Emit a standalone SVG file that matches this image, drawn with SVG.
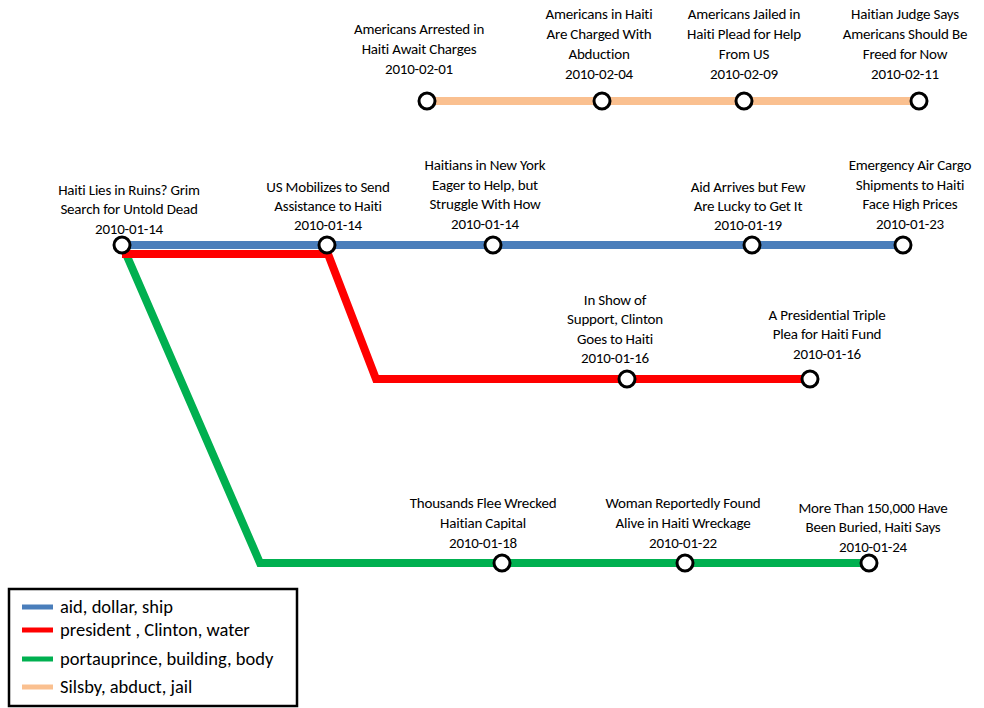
<svg xmlns="http://www.w3.org/2000/svg" width="984" height="708" viewBox="0 0 984 708">
<style>
  text { font-family: Carlito, Lato, "Liberation Sans", sans-serif; font-size: 15px; letter-spacing: -0.2px; font-variant-ligatures: none; fill: #000; text-anchor: middle; }
  .line { fill: none; stroke-width: 8; stroke-linecap: butt; stroke-linejoin: miter; }
  .blue { stroke: #4a7ebb; }
  .red { stroke: #ff0000; }
  .green { stroke: #00b050; }
  .orange { stroke: #fac090; }
  .stop { fill: #ffffff; stroke: #000000; stroke-width: 3; }
  .legend-text { font-size: 18.5px; letter-spacing: 0; text-anchor: start; }
</style>

<g id="connectors">
  <polyline class="line orange" points="427,101 919,101"/>
  <polyline class="line green" points="123,247 260,563 869,563"/>
  <polyline class="line red" points="122,254 328,254 376,379 810,379"/>
  <polyline class="line blue" points="122,245 903,245"/>
</g>

<!-- aid, dollar, ship -->
<g id="n-ruins">
  <circle class="stop" cx="122" cy="245" r="8"/>
  <text x="129" y="195">Haiti Lies in Ruins? Grim</text>
  <text x="129" y="214">Search for Untold Dead</text>
  <text x="129" y="234">2010-01-14</text>
</g>
<g id="n-mobilizes">
  <circle class="stop" cx="327" cy="245" r="8"/>
  <text x="328" y="192">US Mobilizes to Send</text>
  <text x="328" y="211">Assistance to Haiti</text>
  <text x="328" y="230">2010-01-14</text>
</g>
<g id="n-newyork">
  <circle class="stop" cx="493" cy="245" r="8"/>
  <text x="485" y="170">Haitians in New York</text>
  <text x="485" y="190">Eager to Help, but</text>
  <text x="485" y="209">Struggle With How</text>
  <text x="485" y="229">2010-01-14</text>
</g>
<g id="n-aid-arrives">
  <circle class="stop" cx="752" cy="245" r="8"/>
  <text x="748" y="192">Aid Arrives but Few</text>
  <text x="748" y="211">Are Lucky to Get It</text>
  <text x="748" y="230">2010-01-19</text>
</g>
<g id="n-cargo">
  <circle class="stop" cx="903" cy="245" r="8"/>
  <text x="910" y="170">Emergency Air Cargo</text>
  <text x="910" y="190">Shipments to Haiti</text>
  <text x="910" y="209">Face High Prices</text>
  <text x="910" y="229">2010-01-23</text>
</g>

<!-- Silsby, abduct, jail -->
<g id="n-arrested">
  <circle class="stop" cx="427" cy="101" r="8"/>
  <text x="419" y="34">Americans Arrested in</text>
  <text x="419" y="54">Haiti Await Charges</text>
  <text x="419" y="74">2010-02-01</text>
</g>
<g id="n-charged">
  <circle class="stop" cx="602" cy="101" r="8"/>
  <text x="599" y="19">Americans in Haiti</text>
  <text x="599" y="39">Are Charged With</text>
  <text x="599" y="59">Abduction</text>
  <text x="599" y="79">2010-02-04</text>
</g>
<g id="n-jailed">
  <circle class="stop" cx="744" cy="101" r="8"/>
  <text x="744" y="19">Americans Jailed in</text>
  <text x="744" y="39">Haiti Plead for Help</text>
  <text x="744" y="59">From US</text>
  <text x="744" y="79">2010-02-09</text>
</g>
<g id="n-judge">
  <circle class="stop" cx="919" cy="101" r="8"/>
  <text x="905" y="19">Haitian Judge Says</text>
  <text x="905" y="39">Americans Should Be</text>
  <text x="905" y="59">Freed for Now</text>
  <text x="905" y="79">2010-02-11</text>
</g>

<!-- president, Clinton, water -->
<g id="n-clinton">
  <circle class="stop" cx="627" cy="379" r="8"/>
  <text x="615" y="305">In Show of</text>
  <text x="615" y="324">Support, Clinton</text>
  <text x="615" y="344">Goes to Haiti</text>
  <text x="615" y="363">2010-01-16</text>
</g>
<g id="n-triple-plea">
  <circle class="stop" cx="810" cy="379" r="8"/>
  <text x="827" y="320">A Presidential Triple</text>
  <text x="827" y="339">Plea for Haiti Fund</text>
  <text x="827" y="359">2010-01-16</text>
</g>

<!-- portauprince, building, body -->
<g id="n-flee">
  <circle class="stop" cx="502" cy="563" r="8"/>
  <text x="483" y="508">Thousands Flee Wrecked</text>
  <text x="483" y="528">Haitian Capital</text>
  <text x="483" y="548">2010-01-18</text>
</g>
<g id="n-woman">
  <circle class="stop" cx="685" cy="563" r="8"/>
  <text x="683" y="508">Woman Reportedly Found</text>
  <text x="683" y="528">Alive in Haiti Wreckage</text>
  <text x="683" y="548">2010-01-22</text>
</g>
<g id="n-buried">
  <circle class="stop" cx="869" cy="563" r="8"/>
  <text x="873" y="513">More Than 150,000 Have</text>
  <text x="873" y="532">Been Buried, Haiti Says</text>
  <text x="873" y="552">2010-01-24</text>
</g>

<g id="legend">
  <rect x="9" y="589" width="288" height="117" fill="#ffffff" stroke="#000000" stroke-width="2.5"/>
  <line x1="22" y1="607" x2="53" y2="607" stroke="#4a7ebb" stroke-width="5"/>
  <line x1="22" y1="630" x2="53" y2="630" stroke="#ff0000" stroke-width="5"/>
  <line x1="22" y1="659" x2="53" y2="659" stroke="#00b050" stroke-width="5"/>
  <line x1="22" y1="687" x2="53" y2="687" stroke="#fac090" stroke-width="5"/>
  <text class="legend-text" x="60" y="613">aid, dollar, ship</text>
  <text class="legend-text" x="60" y="636">president , Clinton, water</text>
  <text class="legend-text" x="60" y="665">portauprince, building, body</text>
  <text class="legend-text" x="60" y="693">Silsby, abduct, jail</text>
</g>
</svg>
